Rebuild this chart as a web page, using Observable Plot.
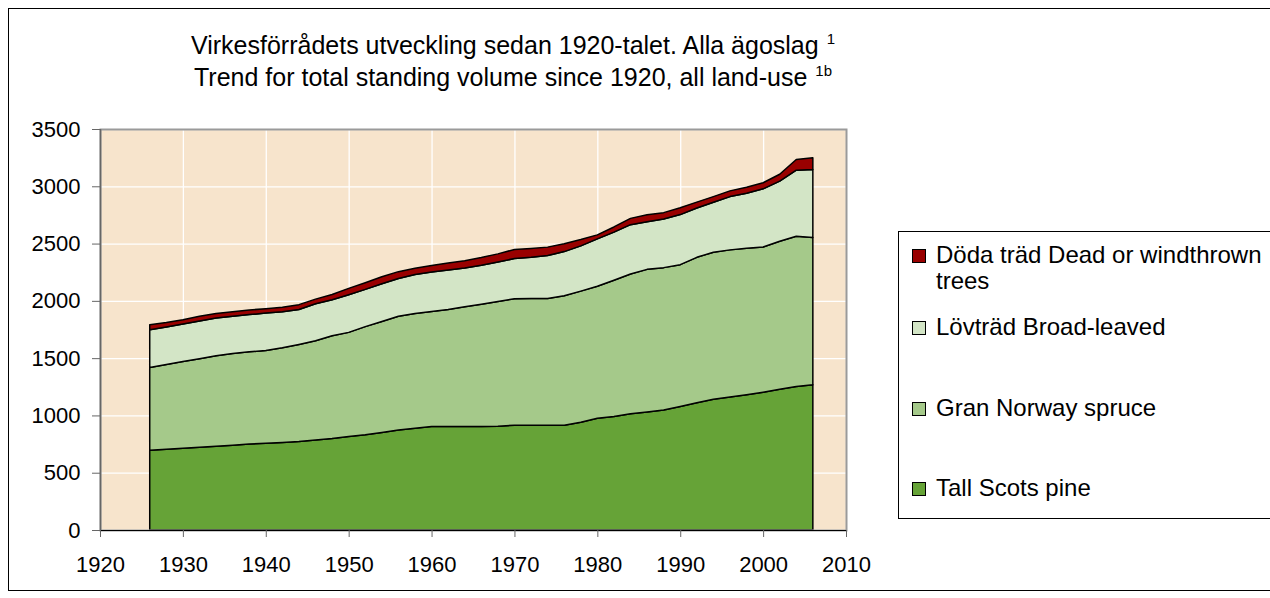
<!DOCTYPE html>
<html>
<head>
<meta charset="utf-8">
<script src="https://cdn.jsdelivr.net/npm/d3@7"></script>
<script src="https://cdn.jsdelivr.net/npm/@observablehq/plot@0.6"></script>
<style>
  html, body { margin: 0; padding: 0; }
  body { width: 1270px; height: 598px; overflow: hidden; background: #fff; position: relative;
         font-family: "Liberation Sans", Arial, sans-serif; color: #000; }
  #outer { position: absolute; left: 8px; top: 8px; width: 1300px; height: 581px; border: 1px solid #000; }
  #chart { position: absolute; left: 0; top: 0; }
  #title { position: absolute; left: 0; top: 31px; width: 1026px; text-align: center;
           font-size: 25px; line-height: 28px; white-space: nowrap; }
  #title .sup { font-size: 15px; position: relative; top: -10px; margin-left: 8px; }
  #legend { position: absolute; left: 898px; top: 231px; width: 420px; height: 286px;
            border: 1px solid #000; background: #fff; font-size: 24px; }
  .item { position: absolute; left: 13px; white-space: nowrap; }
  .sw { position: absolute; left: 0; width: 12px; height: 12px; border: 1px solid #000; }
  .lbl { position: absolute; left: 24px; line-height: 26px; }
</style>
</head>
<body>
<div id="outer"></div>
<div id="chart"></div>
<div id="title">
  <div>Virkesförrådets utveckling sedan 1920-talet. Alla ägoslag<span class="sup">1</span></div>
  <div>Trend for total standing volume since 1920, all land-use<span class="sup">1b</span></div>
</div>
<div id="legend"></div>
<script>
// ---- data (million m3sk) ----
const years  = [1926,1928,1930,1932,1934,1936,1938,1940,1942,1944,1946,1948,1950,1952,1954,1956,1958,1960,1962,1964,1966,1968,1970,1972,1974,1976,1978,1980,1982,1984,1986,1988,1990,1992,1994,1996,1998,2000,2002,2004,2006];
const pine   = [695,705,714,722,732,740,750,758,764,772,785,798,816,832,852,872,888,903,903,903,903,905,915,915,915,915,940,976,990,1014,1030,1048,1078,1110,1142,1160,1180,1203,1228,1253,1267];
const spruce = [724,740,757,773,788,800,805,809,826,848,867,897,909,943,968,993,1002,1005,1022,1045,1067,1090,1104,1105,1105,1130,1145,1151,1190,1221,1245,1242,1238,1270,1283,1285,1279,1267,1292,1311,1285];
const broad  = [329,327,327,330,330,325,325,327,315,305,323,315,329,325,330,330,340,344,345,339,340,345,350,360,375,385,395,414,420,430,415,425,437,430,435,465,481,508,525,577,595];
const dead   = [44,40,38,40,40,40,40,38,40,42,40,45,55,58,60,60,55,56,60,63,68,70,80,78,74,68,55,35,45,55,62,55,59,52,50,50,52,53,60,93,102];

const seriesNames  = ["Tall Scots pine", "Gran Norway spruce", "Lövträd Broad-leaved", "Döda träd Dead or windthrown trees"];
const seriesColors = ["#66A337", "#A5C98A", "#D3E5C6", "#990000"];
const xTicks = [1920,1930,1940,1950,1960,1970,1980,1990,2000,2010];
const yTicks = [0,500,1000,1500,2000,2500,3000,3500];

// tidy table for the stacked area
const seriesValues = [pine, spruce, broad, dead];
const table = [];
seriesValues.forEach((arr, i) => arr.forEach((v, j) => table.push({year: years[j], value: v, series: seriesNames[i]})));

const chart = Plot.plot({
  width: 1270,
  height: 598,
  marginLeft: 100,
  marginRight: 424,
  marginTop: 129,
  marginBottom: 68,
  style: {fontFamily: "'Liberation Sans', Arial, sans-serif", fontSize: "22px", color: "#000", background: "transparent", overflow: "visible"},
  x: {domain: [1920, 2010], label: null},
  y: {domain: [0, 3500], label: null},
  color: {domain: seriesNames, range: seriesColors},
  marks: [
    Plot.frame({fill: "#F7E4CC"}),
    Plot.gridX(xTicks, {stroke: "#ffffff", strokeOpacity: 1, strokeWidth: 1.3}),
    Plot.gridY(yTicks, {stroke: "#ffffff", strokeOpacity: 1, strokeWidth: 1.3}),
    Plot.areaY(table, {x: "year", y: "value", z: "series", fill: "series", order: seriesNames,
                       stroke: "#000", strokeWidth: 1.5, strokeLinejoin: "round"}),
    Plot.frame({stroke: "#9a9a9a", strokeWidth: 2}),
    Plot.ruleX([1920], {stroke: "#666", strokeWidth: 1.5}),
    Plot.ruleY([0], {stroke: "#000", strokeWidth: 1.2}),
    Plot.axisX({ticks: xTicks, tickFormat: d => String(d), tickSize: 7, tickPadding: 19, stroke: "#666", label: null}),
    Plot.axisY({ticks: yTicks, tickFormat: d => String(d), tickSize: 8, tickPadding: 12, stroke: "#666", label: null})
  ]
});
document.getElementById("chart").appendChild(chart);

// legend (top item first, as in the reference)
const legend = document.getElementById("legend");
const rows = [
  {i: 3, top: 10, html: "Döda träd Dead or windthrown<br>trees"},
  {i: 2, top: 82, html: seriesNames[2]},
  {i: 1, top: 163, html: seriesNames[1]},
  {i: 0, top: 243, html: seriesNames[0]}
];
rows.forEach(r => {
  const it = document.createElement("div");
  it.className = "item";
  it.style.top = r.top + "px";
  const sw = document.createElement("div");
  sw.className = "sw";
  sw.style.background = seriesColors[r.i];
  sw.style.top = "7px";
  const lb = document.createElement("div");
  lb.className = "lbl";
  lb.style.top = "0px";
  lb.innerHTML = r.html;
  it.appendChild(sw);
  it.appendChild(lb);
  legend.appendChild(it);
});
</script>
</body>
</html>
